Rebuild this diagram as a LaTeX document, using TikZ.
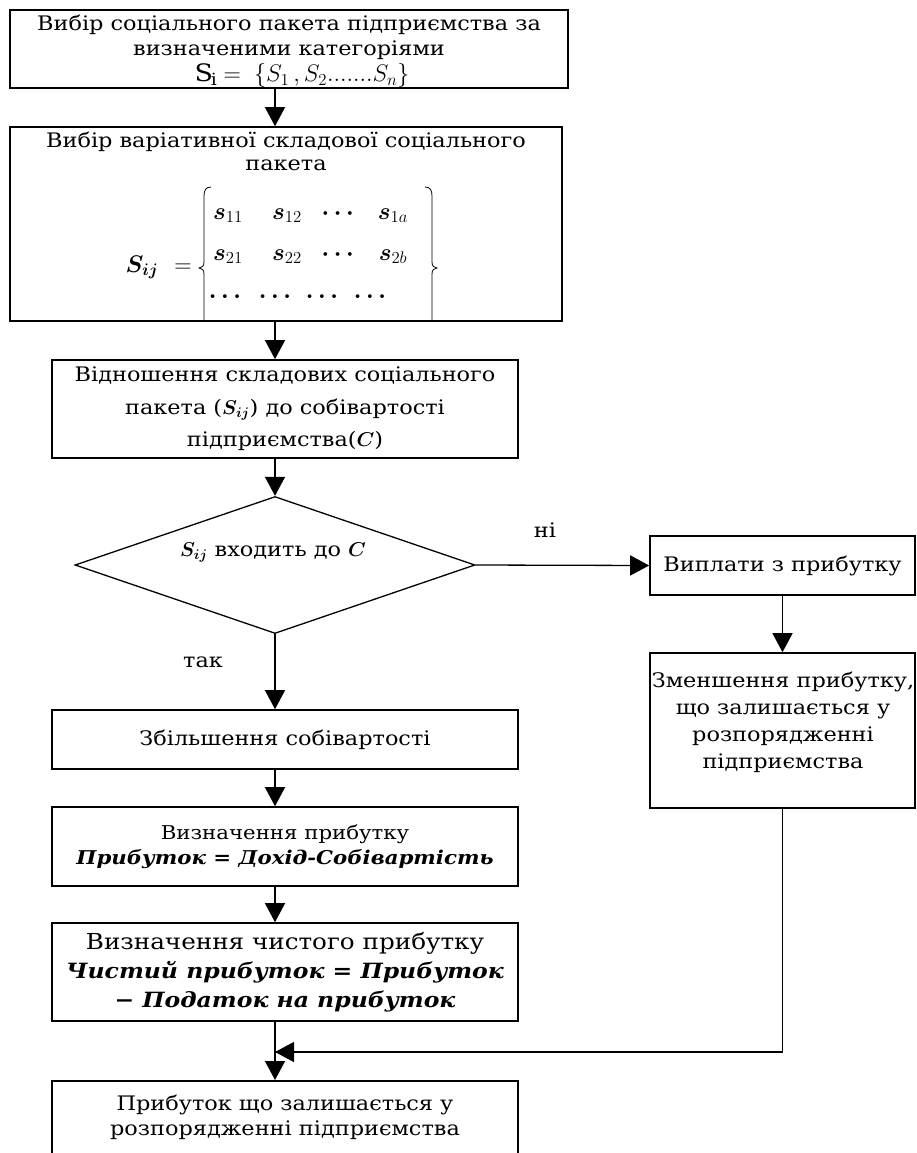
\RequirePackage{fix-cm}
\documentclass[tikz,border=0pt]{standalone}
\usepackage{amsmath,bm}
\usepackage{fontspec}
\setmainfont{DejaVu Serif}[FakeStretch=1.12]
\usetikzlibrary{arrows.meta,shapes.geometric}
\tikzset{
  box/.style={draw, line width=1.6pt, inner sep=0pt, align=center},
  conn/.style={line width=1.3pt, -{Triangle[length=19pt,width=20pt]}},
  brace/.style={line width=0.8pt},
  txt/.style={inner sep=0pt, align=center},
  fA/.style={font=\fontsize{20pt}{25pt}\selectfont},
  fT/.style={font=\fontsize{20pt}{23pt}\selectfont},
  fB/.style={font=\fontsize{20pt}{32.5pt}\selectfont},
  fC/.style={font=\fontsize{20pt}{27pt}\selectfont},
  fD/.style={font=\fontsize{20pt}{25pt}\selectfont},
  fE/.style={font=\fontsize{19pt}{25pt}\selectfont},
  fM/.style={font=\fontsize{24pt}{24pt}\selectfont},
}
\begin{document}
\begin{tikzpicture}[x=1pt,y=-1pt]
\clip (0,0) rectangle (916,1153);
% box 1
\node[box, minimum width=558pt, minimum height=78pt] (b1) at (289,49) {};
\node[txt, fA] (b1t) at (289,37) {Вибір соціального пакета підприємства за\\визначеними категоріями};
\node[txt, fM, anchor=base] (b1m) at (302,82)
  {$\mathrm{S_i} =\; \{S_1\,, S_2.......S_n\}$};
% box 2
\node[box, minimum width=552pt, minimum height=194pt] (b2) at (286,224) {};
\node[txt, fT] (b2t) at (286,151.5)
  {Вибір варіативної складової соціального\\пакета};
\node[txt, fM, anchor=base] (sij) at (142,272) {$\bm{S_{ij}}$};
\node[txt, fM, anchor=base] (eq) at (183,272) {$=$};
\node[txt, fM, anchor=base] (m11) at (228,219) {$\bm{s}_{11}$};
\node[txt, fM, anchor=base] (m12) at (287,219) {$\bm{s}_{12}$};
\node[txt, fM, anchor=base] (m13) at (340,219) {$\bm{\cdots}$};
\node[txt, fM, anchor=base] (m14) at (393,219) {$\bm{s}_{1a}$};
\node[txt, fM, anchor=base] (m21) at (228,260) {$\bm{s}_{21}$};
\node[txt, fM, anchor=base] (m22) at (287,260) {$\bm{s}_{22}$};
\node[txt, fM, anchor=base] (m23) at (340,260) {$\bm{\cdots}$};
\node[txt, fM, anchor=base] (m24) at (393,260) {$\bm{s}_{2b}$};
\node[txt, fM, anchor=base] (m31) at (225,298) {$\bm{\ldots}$};
\node[txt, fM, anchor=base] (m32) at (275,298) {$\bm{\ldots}$};
\node[txt, fM, anchor=base] (m33) at (322,298) {$\bm{\ldots}$};
\node[txt, fM, anchor=base] (m34) at (370,298) {$\bm{\ldots}$};
\draw[brace] (211,187) .. controls (206,187) and (204,190) .. (204,196) -- (204,262)
  .. controls (204,266) and (202,268) .. (199,268) .. controls (202,268) and (204,270) .. (204,274) -- (204,321);
\draw[brace] (425,187) .. controls (430,187) and (432,190) .. (432,196) -- (432,262)
  .. controls (432,266) and (434,268) .. (437,268) .. controls (434,268) and (432,270) .. (432,274) -- (432,321);
% box 3
\node[box, fB, minimum width=466pt, minimum height=98pt] (b3) at (285,409)
  {Відношення складових соціального\\пакета ($\bm{S_{ij}}$) до собівартості\\підприємства($\bm{C}$)};
% diamond
\node[draw, diamond, line width=1.3pt, inner sep=0pt, minimum width=400pt, minimum height=137pt] (d) at (275,565) {};
\node[txt, fD] (dt) at (273,552) {$\bm{S_{ij}}$ входить до $\bm{C}$};
% right column
\node[box, fC, minimum width=265pt, minimum height=59pt] (r1) at (782.5,565.5) {Виплати з прибутку};
\node[box, minimum width=265pt, minimum height=155pt] (r2) at (782.5,730.5) {};
\node[txt, fC] (r2t) at (783,722) {Зменшення прибутку,\\що залишається у\\розпорядженні\\підприємства};
% lower left
\node[box, fD, minimum width=466pt, minimum height=59pt] (b4) at (285,739.5) {Збільшення собівартості};
\node[box, fE, minimum width=466pt, minimum height=79pt] (b5) at (285,846.5)
  {Визначення прибутку\\{\bfseries\itshape Прибуток = Дохід-Собівартість}};
\node[box, font=\fontsize{21pt}{29pt}\selectfont, minimum width=466pt, minimum height=98pt] (b6) at (285,972)
  {{\fontsize{22pt}{29pt}\selectfont Визначення чистого прибутку}\\{\bfseries\itshape Чистий прибуток = Прибуток}\\{\bfseries\itshape − Податок на прибуток}};
\node[box, minimum width=466pt, minimum height=100pt, anchor=north] (b7) at (285,1080) {};
\node[txt, fD] (b7t) at (285,1117) {Прибуток що залишається у\\розпорядженні підприємства};
% labels
\node[txt, fD] (ni) at (545,530) {ні};
\node[txt, fD] (tak) at (203,662) {так};
\coordinate (merge) at (275,1052);
% connectors
\draw[conn] (b1.south -| d.north) -- (b2.north -| d.north);
\draw[conn] (b2.south -| d.north) -- (b3.north -| d.north);
\draw[conn] (b3.south -| d.north) -- (d.north);
\draw[conn] (d.south) -- (b4.north -| d.south);
\draw[conn] (b4.south -| d.south) -- (b5.north -| d.south);
\draw[conn] (b5.south -| d.south) -- (b6.north -| d.south);
\draw[conn] (b6.south -| d.south) -- (b7.north -| d.south);
\draw[conn] (d.east) -- (r1.west);
\draw[conn] (r1.south -| r2.north) -- (r2.north);
\draw[conn] (r2.south) |- (merge);
\end{tikzpicture}
\end{document}
